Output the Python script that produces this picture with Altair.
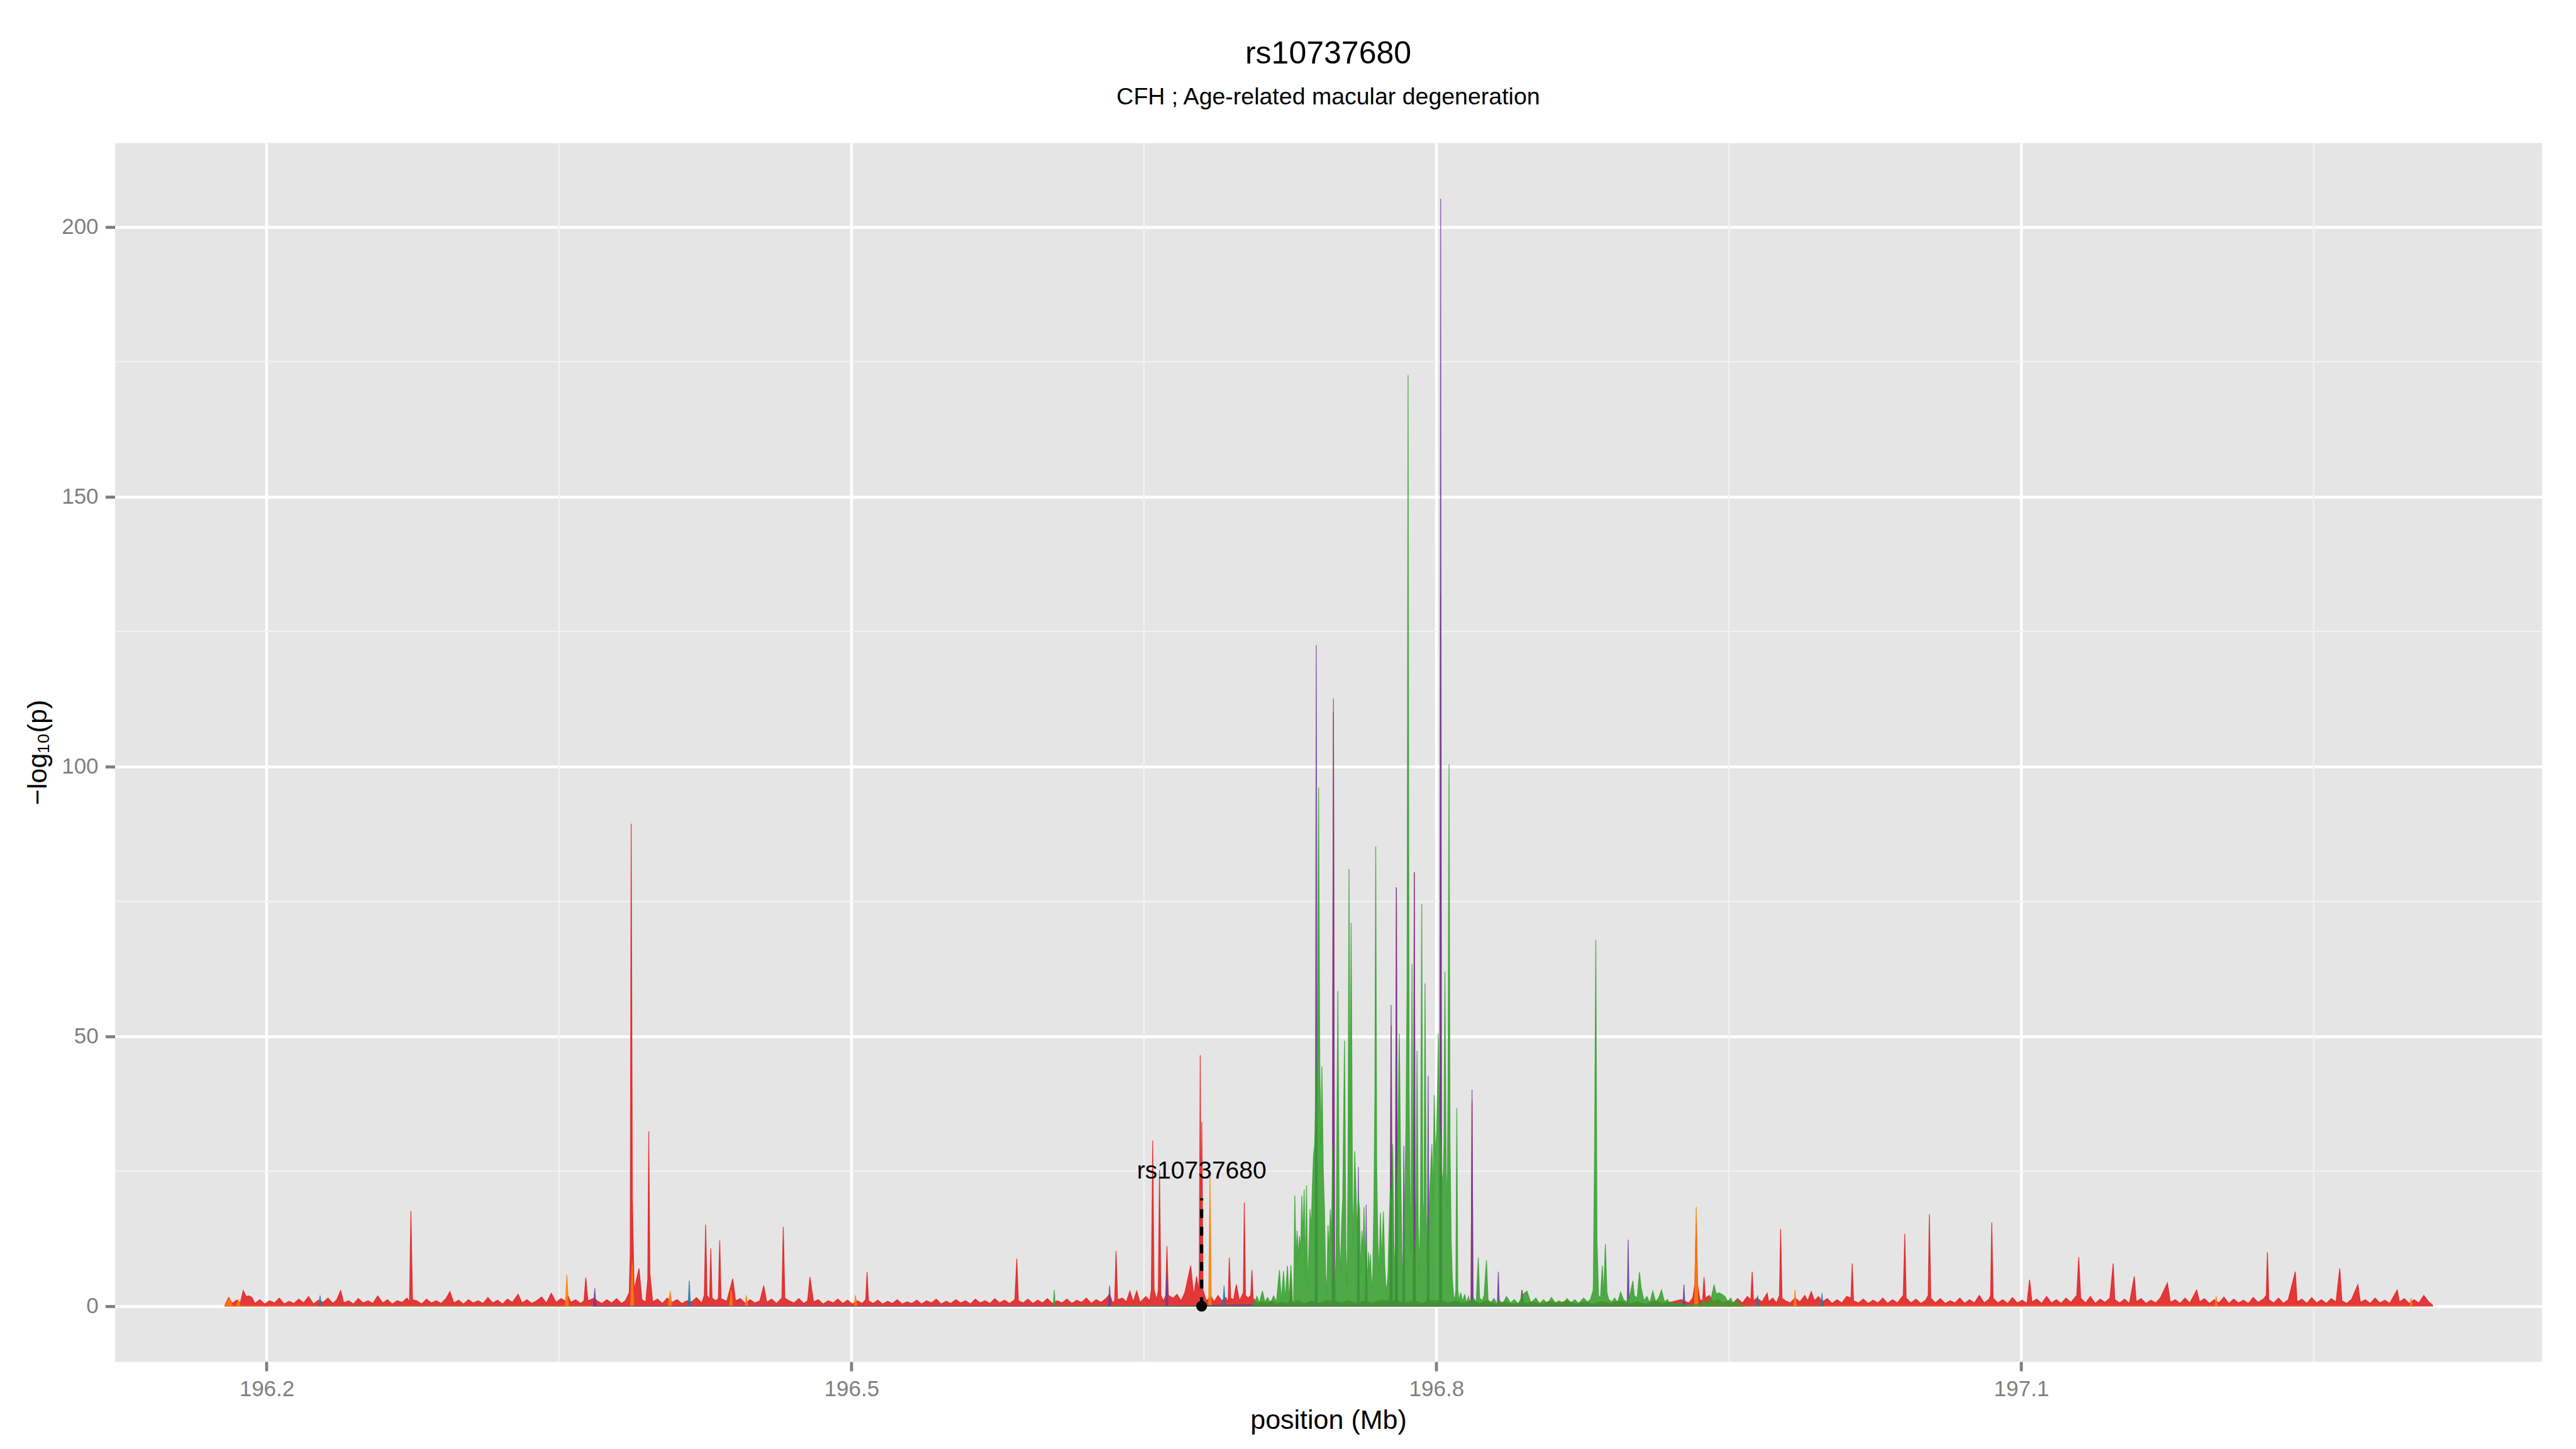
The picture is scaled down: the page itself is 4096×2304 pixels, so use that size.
import altair as alt
import pandas as pd

# ---------------- data ----------------
# (position in Mb, -log10 p) points of each coloured series
red_pts = [
    (196.1787,0.2),(196.1805,1.6),(196.1825,0.5),(196.1845,1.1),(196.1865,0.6),(196.188,2.9),(196.1895,1.8),
    (196.191,1.9),(196.1925,1.6),(196.194,0.5),(196.1965,1.2),(196.199,0.4),(196.2015,1.0),(196.204,0.6),
    (196.2065,1.5),(196.209,0.4),(196.2115,0.9),(196.214,0.5),(196.2165,1.3),(196.219,0.6),(196.2215,1.8),
    (196.224,0.4),(196.2265,1.1),(196.229,0.7),(196.2315,1.5),(196.234,0.5),(196.236,1.2),(196.238,2.9),
    (196.2395,0.6),(196.242,1.0),(196.2445,0.4),(196.247,1.4),(196.2495,0.6),(196.252,1.0),(196.2545,0.5),
    (196.257,1.9),(196.2595,0.6),(196.262,1.2),(196.2645,0.4),(196.267,1.0),(196.2695,0.7),(196.272,1.5),
    (196.2733,0.8),(196.274,17.6),(196.2748,1.2),(196.277,1.0),(196.2795,0.4),(196.282,1.3),(196.2845,0.6),
    (196.287,1.0),(196.2895,0.5),(196.292,1.4),(196.294,2.7),(196.296,0.6),(196.2985,1.1),(196.301,0.4),
    (196.3035,1.2),(196.306,0.6),(196.3085,1.0),(196.311,0.5),(196.3135,1.6),(196.316,0.6),(196.3185,1.1),
    (196.321,0.4),(196.3235,1.3),(196.326,0.7),(196.329,2.2),(196.331,0.6),(196.3335,1.2),(196.336,0.5),
    (196.3385,1.0),(196.341,1.7),(196.3435,0.6),(196.346,2.4),(196.3485,0.7),(196.351,1.4),(196.3535,0.9),
    (196.3545,2.0),(196.356,0.7),(196.3585,1.2),(196.361,0.5),(196.3628,1.0),(196.3637,5.3),(196.3648,1.0),
    (196.368,1.5),(196.3695,1.0),(196.372,0.5),(196.3745,1.2),(196.377,0.6),(196.3795,1.4),(196.382,0.5),
    (196.384,1.0),(196.386,2.5),(196.3865,10.0),(196.387,89.4),(196.3876,20.0),(196.3885,3.0),(196.391,7.0),
    (196.3925,1.2),(196.3945,0.8),(196.3955,5.0),(196.396,32.4),(196.3966,6.0),(196.398,0.8),(196.4005,1.3),
    (196.403,0.5),(196.4055,1.5),(196.408,0.7),(196.4105,1.2),(196.413,0.5),(196.4155,1.0),(196.418,0.8),
    (196.4205,1.6),(196.4232,0.6),(196.4245,2.0),(196.4252,15.1),(196.4259,2.0),(196.4272,1.2),(196.4278,10.7),
    (196.4285,1.5),(196.4305,1.0),(196.4317,1.4),(196.4324,12.2),(196.4331,1.4),(196.436,0.9),(196.4391,5.1),
    (196.4405,1.0),(196.443,1.4),(196.4455,0.5),(196.448,1.2),(196.4505,0.6),(196.453,1.0),(196.455,3.8),
    (196.4565,0.7),(196.459,1.3),(196.4615,0.5),(196.4643,1.5),(196.465,14.7),(196.4658,1.5),(196.468,1.0),
    (196.4705,0.6),(196.473,1.4),(196.4755,0.5),(196.4775,1.0),(196.4787,5.4),(196.4805,0.8),(196.483,1.2),
    (196.4855,0.4),(196.488,1.0),(196.4905,0.6),(196.493,1.3),(196.4955,0.5),(196.498,1.1),(196.5005,0.4),
    (196.503,1.0),(196.5055,0.5),(196.5073,1.2),(196.508,6.3),(196.5087,1.0),(196.511,0.5),(196.5135,1.1),
    (196.516,0.4),(196.5185,0.9),(196.521,0.5),(196.5235,1.2),(196.526,0.4),(196.5285,0.8),(196.531,0.5),
    (196.5335,1.1),(196.536,0.4),(196.5385,1.0),(196.541,0.6),(196.5435,1.3),(196.546,0.4),(196.5485,0.9),
    (196.551,0.5),(196.5535,1.2),(196.556,0.6),(196.5585,1.0),(196.561,0.4),(196.5635,1.3),(196.566,0.6),
    (196.5685,1.0),(196.571,0.5),(196.5735,1.4),(196.576,0.6),(196.5785,1.1),(196.581,0.5),(196.5838,1.2),
    (196.5848,8.8),(196.5856,1.0),(196.588,0.6),(196.5905,1.3),(196.593,0.5),(196.5955,1.1),(196.598,0.6),
    (196.6005,1.4),(196.603,0.5),(196.6055,1.0),(196.608,0.6),(196.6105,1.3),(196.613,0.5),(196.6155,1.1),
    (196.618,0.7),(196.6205,1.5),(196.623,0.5),(196.6255,1.2),(196.628,0.7),(196.6305,1.4),(196.6324,2.2),
    (196.634,0.6),(196.635,1.0),(196.6357,10.2),(196.6365,1.2),(196.639,1.5),(196.641,0.8),(196.6428,2.8),
    (196.6445,0.8),(196.6463,2.8),(196.648,0.7),(196.651,1.8),(196.653,1.0),(196.6538,3.0),(196.6545,30.7),
    (196.6552,3.0),(196.6565,1.2),(196.6574,3.0),(196.658,25.2),(196.6587,2.0),(196.660,1.0),(196.6612,2.0),
    (196.6618,11.1),(196.6625,2.0),(196.665,1.5),(196.667,2.2),(196.669,1.0),(196.671,2.5),(196.674,7.5),
    (196.6755,2.0),(196.677,5.5),(196.678,3.0),(196.6784,6.0),(196.6789,46.5),(196.6793,10.0),(196.6797,34.2),
    (196.6803,3.0),(196.682,1.0),(196.6845,1.8),(196.686,0.8),(196.688,2.0),(196.690,1.0),(196.692,1.6),
    (196.6932,0.8),(196.6938,9.0),(196.6945,1.5),(196.696,1.2),(196.6974,4.0),(196.699,1.0),(196.701,2.5),
    (196.7015,19.2),(196.7021,2.0),(196.7035,1.5),(196.7048,2.0),(196.7054,6.7),(196.706,1.5),(196.708,0.6),
    (196.7105,0.8),(196.713,0.5),(196.7155,1.0),(196.718,0.4),(196.7205,0.8),(196.7235,0.5),(196.7248,1.0),
    (196.7254,6.0),(196.726,0.5),(196.729,1.0),(196.7325,0.5),(196.736,1.0),(196.7395,0.5),(196.743,1.0),
    (196.7466,1.0),(196.7472,110.0),(196.7478,1.0),(196.751,0.6),(196.755,1.0),(196.759,0.5),(196.763,1.0),
    (196.767,0.6),(196.771,1.0),(196.7762,1.0),(196.7768,52.0),(196.7774,1.0),(196.779,1.0),(196.7795,77.6),
    (196.780,1.0),(196.7838,0.6),(196.7882,1.0),(196.7887,80.4),(196.7892,1.0),(196.7925,0.5),(196.796,1.0),
    (196.8017,1.0),(196.8022,132.0),(196.8027,1.0),(196.806,0.6),(196.810,1.0),(196.814,0.5),(196.8178,1.0),
    (196.8183,38.0),(196.8188,1.0),(196.822,0.5),(196.826,1.0),(196.8305,0.4),(196.835,0.8),(196.8395,0.4),
    (196.8433,0.6),(196.8439,3.0),(196.8448,0.5),(196.849,0.8),(196.8535,0.4),(196.858,0.9),(196.8625,0.5),
    (196.867,1.0),(196.8715,0.4),(196.876,0.8),(196.8805,0.4),(196.885,0.9),(196.8895,0.5),(196.894,1.0),
    (196.8985,0.4),(196.903,0.8),(196.9075,0.4),(196.912,1.0),(196.9165,0.5),(196.921,0.8),(196.9255,1.2),
    (196.9295,0.6),(196.9315,1.5),(196.9326,4.0),(196.9333,15.5),(196.934,4.0),(196.9352,1.2),(196.9366,1.0),
    (196.9373,5.4),(196.938,1.5),(196.940,2.0),(196.942,0.8),(196.9445,1.2),(196.947,0.6),(196.9495,1.0),
    (196.952,0.5),(196.9545,1.4),(196.957,0.6),(196.9595,1.8),(196.9613,1.2),(196.962,6.4),(196.9627,1.0),
    (196.9645,1.5),(196.967,0.8),(196.9697,2.4),(196.9705,0.8),(196.9725,1.5),(196.9745,0.6),(196.976,2.0),
    (196.9766,14.3),(196.9773,1.5),(196.979,1.0),(196.9815,0.6),(196.984,1.5),(196.9865,0.8),(196.989,2.0),
    (196.9905,1.0),(196.9923,2.7),(196.994,1.0),(196.996,1.8),(196.998,0.8),(197.0005,1.4),(197.003,0.5),
    (197.0055,1.2),(197.008,0.6),(197.0105,1.8),(197.0127,1.5),(197.0133,7.9),(197.014,1.0),(197.0165,0.6),
    (197.019,1.3),(197.0215,0.5),(197.024,1.1),(197.0265,0.6),(197.029,1.5),(197.0315,0.5),(197.034,1.2),
    (197.0365,0.6),(197.0395,2.0),(197.0403,13.4),(197.041,1.5),(197.0435,0.6),(197.046,1.3),(197.0485,0.5),
    (197.051,1.1),(197.0523,2.0),(197.0529,17.0),(197.0536,1.5),(197.056,0.6),(197.0585,1.4),(197.061,0.5),
    (197.0635,1.0),(197.066,0.6),(197.0685,1.5),(197.071,0.5),(197.0735,1.2),(197.076,0.6),(197.0785,2.0),
    (197.081,0.6),(197.0835,1.3),(197.0843,2.0),(197.0849,15.5),(197.0856,1.5),(197.088,0.6),(197.0905,1.2),
    (197.093,0.5),(197.0955,1.6),(197.098,0.6),(197.1005,1.1),(197.103,0.5),(197.1043,4.9),(197.1055,0.8),
    (197.108,1.3),(197.1105,0.5),(197.113,1.8),(197.1155,0.6),(197.118,1.2),(197.1205,0.5),(197.123,1.5),
    (197.1255,0.7),(197.1285,2.0),(197.1295,9.1),(197.1305,1.5),(197.133,0.6),(197.1355,1.8),(197.138,0.5),
    (197.1405,1.3),(197.143,0.7),(197.1455,1.5),(197.1472,7.9),(197.148,1.2),(197.1505,0.6),(197.153,1.3),
    (197.1555,0.5),(197.158,5.5),(197.159,0.8),(197.1615,1.4),(197.164,0.5),(197.1665,1.1),(197.169,0.6),
    (197.1715,1.6),(197.175,4.3),(197.1765,0.7),(197.179,1.2),(197.1815,0.5),(197.184,1.5),(197.1865,0.6),
    (197.190,3.0),(197.1915,0.8),(197.194,1.4),(197.1965,0.5),(197.199,1.2),(197.2015,0.6),(197.204,1.7),
    (197.2065,0.5),(197.209,1.3),(197.2115,0.6),(197.214,1.1),(197.2165,0.5),(197.219,1.6),(197.2215,0.7),
    (197.2245,1.4),(197.2257,2.0),(197.2263,10.0),(197.227,1.2),(197.2295,0.6),(197.232,1.5),(197.2345,0.5),
    (197.237,1.2),(197.2406,6.4),(197.2415,0.8),(197.244,1.3),(197.2465,0.5),(197.249,1.6),(197.2515,0.6),
    (197.254,1.2),(197.2565,0.5),(197.259,1.4),(197.2615,0.8),(197.2634,7.0),(197.2645,1.0),(197.267,0.5),
    (197.2695,1.3),(197.2727,4.0),(197.274,0.7),(197.2765,1.2),(197.279,0.5),(197.2815,1.5),(197.284,0.6),
    (197.2865,1.1),(197.289,0.5),(197.2929,3.0),(197.294,0.8),(197.2965,1.4),(197.299,0.5),(197.3015,1.2),
    (197.304,0.6),(197.3065,2.0),(197.309,0.8),(197.311,0.2),
]

orange_pts = [
    (196.1787,0.0),(196.181,1.5),(196.1825,0.0),(196.1845,0.0),(196.1855,1.2),(196.1865,0.0),
    (196.3532,0.0),(196.354,5.8),(196.3548,0.0),(196.3867,0.0),(196.3875,8.0),(196.3883,0.0),
    (196.406,0.0),(196.407,2.8),(196.408,0.0),(196.4375,0.0),(196.4383,3.0),(196.439,0.0),
    (196.4455,0.0),(196.446,2.0),(196.4468,0.0),(196.5015,0.0),(196.502,2.0),(196.5028,0.0),
    (196.6832,0.0),(196.6839,24.0),(196.6846,0.0),(196.9325,0.0),(196.9333,18.4),(196.9341,0.0),
    (196.9834,0.0),(196.984,3.0),(196.9846,0.0),(197.1995,0.0),(197.2,1.8),(197.2006,0.0),
    (197.2995,0.0),(197.3,1.5),(197.3005,0.0),
]

blue_pts = [
    (196.2268,0.0),(196.2274,2.0),(196.228,0.0),(196.4162,0.0),(196.4168,4.7),(196.4174,0.0),
    (196.6905,0.0),(196.6911,3.8),(196.6917,0.0),(196.9642,0.0),(196.9648,2.0),(196.9654,0.0),
    (196.9972,0.0),(196.9978,2.4),(196.9984,0.0),
]

purple_pts = [
    (196.3677,0.0),(196.3683,3.3),(196.3689,0.0),(196.6318,0.0),(196.6324,3.8),(196.633,0.0),
    (196.6612,0.0),(196.6618,6.0),(196.6624,0.0),
    (196.7378,0.5),(196.7384,122.5),(196.739,0.5),(196.7466,0.5),(196.7472,112.6),(196.7478,0.5),
    (196.7595,0.5),(196.760,25.8),(196.7605,0.5),(196.7636,0.5),(196.764,18.8),(196.7645,0.5),
    (196.7762,0.5),(196.7768,55.8),(196.7774,0.5),(196.7789,0.5),(196.7795,77.6),(196.7801,0.5),
    (196.7828,0.5),(196.7833,29.7),(196.7838,0.5),(196.7882,0.5),(196.7887,80.4),(196.7892,0.5),
    (196.7953,0.5),(196.7958,42.7),(196.7963,0.5),(196.8017,0.5),(196.8022,205.2),(196.8027,0.5),
    (196.8178,0.5),(196.8183,40.1),(196.8188,0.5),(196.8313,0.3),(196.8318,6.4),(196.8323,0.3),
    (196.8434,0.3),(196.8439,3.0),(196.8444,0.3),(196.8979,0.3),(196.8984,12.3),(196.8989,0.3),
    (196.9265,0.3),(196.927,4.0),(196.9275,0.3),
]

green_pts = [
    (196.6035,0.0),(196.604,3.0),(196.6045,0.0),
    (196.7055,0.0),(196.7068,0.8),(196.708,1.8),(196.7092,0.6),(196.7108,2.8),(196.712,0.8),(196.7135,1.6),
    (196.715,0.5),(196.7165,1.9),(196.718,0.7),(196.7195,6.7),(196.7205,1.0),(196.7216,6.5),(196.7225,1.2),
    (196.7236,7.5),(196.7245,1.0),(196.7254,7.6),(196.7262,0.8),(196.7268,1.0),(196.7274,20.5),(196.728,8.0),
    (196.7286,14.0),(196.7292,9.0),(196.7298,13.0),(196.7304,10.0),(196.731,20.5),(196.7316,12.0),
    (196.7322,21.6),(196.7328,6.0),(196.7334,22.4),(196.734,3.0),(196.7346,10.0),(196.7352,18.0),
    (196.7358,14.0),(196.7364,22.0),(196.737,28.0),(196.7376,30.0),(196.7382,40.0),(196.7388,45.0),
    (196.7392,60.0),(196.7396,96.1),(196.7402,45.0),(196.7408,30.0),(196.7413,44.4),(196.742,25.0),
    (196.7426,18.0),(196.7432,6.0),(196.7438,2.0),(196.7444,15.0),(196.745,10.0),(196.7456,18.0),
    (196.7462,12.0),(196.7468,30.0),(196.7474,8.0),(196.748,2.0),(196.7486,10.0),(196.7495,58.4),
    (196.7502,12.0),(196.7508,6.0),(196.7514,15.0),(196.752,20.0),(196.7529,49.2),(196.7536,10.0),
    (196.7542,4.0),(196.7547,25.0),(196.7552,81.0),(196.7557,30.0),(196.7563,71.0),(196.757,20.0),
    (196.7575,12.0),(196.7581,28.7),(196.7587,22.0),(196.7593,14.0),(196.760,20.0),(196.7606,18.0),
    (196.7612,6.0),(196.7618,14.0),(196.7624,10.0),(196.7629,18.3),(196.7635,8.0),(196.764,12.0),
    (196.7646,4.0),(196.7652,10.0),(196.7657,6.0),(196.7662,9.6),(196.7668,3.0),(196.7674,6.0),
    (196.768,20.0),(196.7685,40.0),(196.7689,85.2),(196.7694,25.0),(196.770,12.0),(196.7706,6.0),
    (196.7713,17.3),(196.772,8.0),(196.7728,17.5),(196.7735,8.0),(196.774,4.0),(196.7746,3.0),
    (196.7752,6.0),(196.7758,15.0),(196.7764,22.0),(196.777,18.0),(196.7776,30.0),(196.7782,12.0),
    (196.7788,6.0),(196.7794,20.0),(196.7802,30.0),(196.781,50.5),(196.7817,25.0),(196.7823,10.0),
    (196.7829,4.0),(196.7835,12.0),(196.7844,32.7),(196.785,60.0),(196.7855,172.5),(196.786,40.0),
    (196.7866,18.0),(196.787,10.0),(196.7875,63.4),(196.788,20.0),(196.7886,6.0),(196.7892,12.0),
    (196.7897,20.0),(196.7901,47.3),(196.7907,15.0),(196.7913,6.0),(196.7919,20.0),(196.7925,74.5),
    (196.793,20.0),(196.7936,14.0),(196.7942,59.8),(196.7948,18.0),(196.7953,8.0),(196.7959,12.0),
    (196.7965,20.0),(196.7971,25.0),(196.7977,30.0),(196.7983,20.0),(196.7989,39.1),(196.7995,28.0),
    (196.8001,32.0),(196.8006,40.0),(196.801,50.5),(196.8015,35.0),(196.8022,30.0),(196.8028,25.0),
    (196.8034,22.0),(196.8039,30.0),(196.8044,62.0),(196.805,25.0),(196.8055,18.0),(196.806,40.0),
    (196.8065,100.4),(196.807,30.0),(196.8076,12.0),(196.8082,5.0),(196.8088,2.0),(196.8094,1.0),
    (196.810,3.0),(196.8105,36.7),(196.811,3.0),(196.8116,1.0),(196.8125,2.5),(196.8135,0.8),
    (196.8145,2.2),(196.8155,0.6),(196.8165,1.8),(196.8175,0.5),(196.819,1.5),(196.8205,0.8),
    (196.8215,9.0),(196.8222,1.5),(196.8235,1.0),(196.8245,2.0),(196.8257,8.5),(196.8265,1.2),
    (196.828,0.6),(196.8295,1.4),(196.831,0.5),(196.8325,1.0),(196.834,0.4),(196.836,1.8),(196.838,0.6),
    (196.840,1.2),(196.842,0.4),(196.8445,2.2),(196.8465,2.8),(196.8485,0.6),(196.851,1.5),(196.853,0.5),
    (196.855,1.2),(196.857,0.4),(196.859,1.6),(196.861,0.6),(196.863,1.0),(196.865,0.5),(196.867,1.4),
    (196.869,0.6),(196.871,1.2),(196.873,0.5),(196.8755,1.5),(196.8775,0.8),(196.879,1.2),(196.8805,3.0),
    (196.8812,30.0),(196.8818,67.9),(196.8824,12.0),(196.8832,2.0),(196.8842,1.5),(196.8851,7.5),
    (196.8858,2.0),(196.8867,11.5),(196.8875,2.5),(196.8885,1.2),(196.890,0.8),(196.8915,1.5),
    (196.893,0.6),(196.8945,2.6),(196.896,1.2),(196.8975,0.8),(196.899,1.5),(196.9008,4.7),(196.9015,2.0),
    (196.903,1.5),(196.9042,6.3),(196.905,3.5),(196.9065,1.0),(196.908,1.8),(196.9095,0.6),(196.911,2.8),
    (196.9125,0.8),(196.914,1.5),(196.9155,3.0),(196.917,0.8),(196.9185,1.2),(196.920,0.5),(196.9215,0.8),
    (196.923,0.3),(196.925,0.6),(196.927,0.2),(196.930,0.2),(196.9355,0.3),(196.937,1.0),(196.939,0.5),
    (196.941,1.5),(196.9425,4.0),(196.9435,2.3),(196.945,2.5),(196.9465,2.2),(196.948,1.8),(196.9495,0.8),
    (196.951,1.5),(196.9525,0.3),(196.954,1.2),(196.956,0.2),(196.958,0.0),
]

series_order = ["red", "blue", "orange", "purple", "green"]
series_colors = {"red": "#E31A1C", "blue": "#1F78B4", "orange": "#FF7F00",
                 "purple": "#6A3D9A", "green": "#33A02C"}
series_points = {"red": red_pts, "blue": blue_pts, "orange": orange_pts,
                 "purple": purple_pts, "green": green_pts}

x_ticks = [196.2, 196.5, 196.8, 197.1]
x_minor = [196.35, 196.65, 196.95, 197.25]
y_ticks = [0, 50, 100, 150, 200]
y_minor = [25, 75, 125, 175]

snp_name = "rs10737680"
snp_pos = [196.6796]
snp_line_top = [20]
snp_label_y = [25]

title_text = "rs10737680"
subtitle_text = "CFH ; Age-related macular degeneration"

# ---------------- layout ----------------
W, H = 3859, 1938
FONT = "Liberation Sans"
GREY = "#7F7F7F"

xscale = alt.Scale(domain=[196.1221, 197.367], nice=False, zero=False)
yscale = alt.Scale(domain=[-10.27, 215.57], nice=False, zero=False)

xaxis = alt.Axis(values=x_ticks, format=".1f", grid=True, gridColor="white", gridWidth=4.5,
                 domain=False, ticks=True, tickColor=GREY, tickWidth=4.8, tickSize=15,
                 labelFont=FONT, labelFontSize=35, labelColor=GREY, labelPadding=11.5,
                 labelFlush=False, labelOverlap=False,
                 titleFont=FONT, titleFontSize=43, titleFontWeight="normal", titleColor="black",
                 titleBaseline="alphabetic", titleX=W / 2, titleY=106.7, titleAlign="center")
yaxis = alt.Axis(values=y_ticks, format="d", grid=True, gridColor="white", gridWidth=4.5,
                 domain=False, ticks=True, tickColor=GREY, tickWidth=4.8, tickSize=15,
                 labelFont=FONT, labelFontSize=35, labelColor=GREY, labelPadding=11.4,
                 labelFlush=False, labelOverlap=False,
                 titleFont=FONT, titleFontSize=43, titleFontWeight="normal", titleColor="black",
                 titleAngle=270, titleX=-122, titleY=H / 2, titleBaseline="middle",
                 titleAlign="center")

X = alt.X("x:Q", scale=xscale, axis=xaxis, title="position (Mb)")
Y = alt.Y("y:Q", scale=yscale, axis=yaxis, title="−log₁₀(p)")

layers = []

# minor gridlines
layers.append(alt.Chart(pd.DataFrame({"x": x_minor})).mark_rule(
    color="#F2F2F2", strokeWidth=2.3).encode(x=X))
layers.append(alt.Chart(pd.DataFrame({"y": y_minor})).mark_rule(
    color="#F2F2F2", strokeWidth=2.3).encode(y=Y))

# association signal areas
for name in series_order:
    pts = series_points[name]
    df = pd.DataFrame({"x": [p[0] for p in pts], "y": [p[1] for p in pts]})
    layers.append(alt.Chart(df).mark_area(
        color=series_colors[name], fillOpacity=0.85, stroke=series_colors[name],
        strokeWidth=1.4, strokeOpacity=0.75, interpolate="linear").encode(
        x=X, y=Y, y2=alt.datum(0)))

# SNP annotation
ann = pd.DataFrame({"x": snp_pos, "y": [0], "y2": snp_line_top})
layers.append(alt.Chart(ann).mark_rule(
    color="black", strokeWidth=5.2, strokeDash=[14, 14]).encode(
    x=X, y=Y, y2=alt.Y2("y2:Q")))
layers.append(alt.Chart(ann).mark_point(
    filled=True, color="black", opacity=1, size=300).encode(x=X, y=Y))
lab = pd.DataFrame({"x": snp_pos, "y": snp_label_y, "t": [snp_name]})
layers.append(alt.Chart(lab).mark_text(
    font=FONT, fontSize=39, color="black", align="center", baseline="middle").encode(
    x=X, y=Y, text="t:N"))

chart = alt.layer(*layers).properties(
    width=W, height=H,
    title=alt.TitleParams(text=title_text, subtitle=subtitle_text, font=FONT, subtitleFont=FONT,
                          fontSize=50, subtitleFontSize=37.5, fontWeight="normal",
                          subtitleFontWeight="normal", color="black", subtitleColor="black",
                          anchor="middle", offset=52.7, subtitlePadding=24.3),
    padding={"left": 174.5, "top": 219, "right": 45, "bottom": 125},
    autosize=alt.AutoSizeParams(type="none"),
).configure_view(fill="#E5E5E5", stroke="transparent")

chart.save("out.html", embed_options={"renderer": "svg", "actions": False})
